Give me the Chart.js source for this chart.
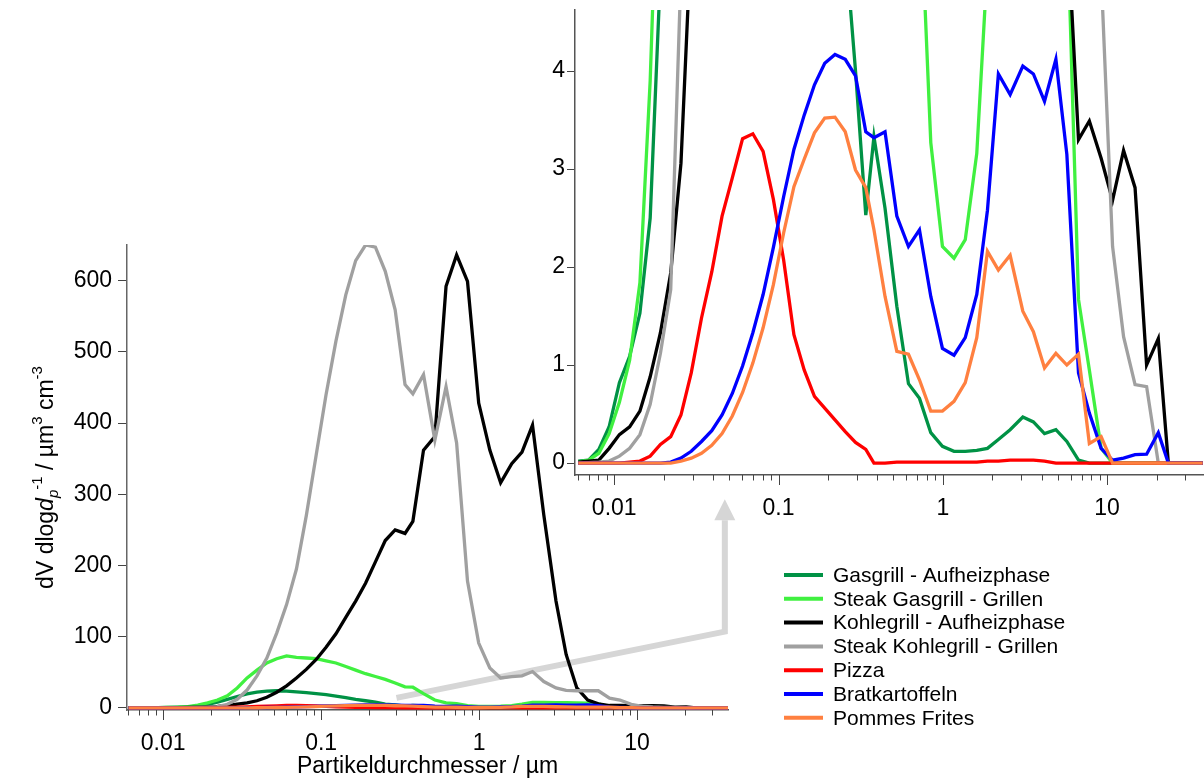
<!DOCTYPE html>
<html>
<head>
<meta charset="utf-8">
<script src="https://cdn.jsdelivr.net/npm/chart.js@4.4.1/dist/chart.umd.min.js"></script>
<style>
  html, body { margin: 0; padding: 0; background: #fff; }
  #wrap { position: relative; width: 1204px; height: 780px; }
  #wrap canvas { position: absolute; left: 0; top: 0; }
</style>
</head>
<body>
<div id="wrap">
  <canvas id="mainChart" width="1204" height="780"></canvas>
  <canvas id="insetChart" width="1204" height="780"></canvas>
</div>
<script>
// particle diameter in µm (SMPS part, then OPS part)
const sizes = [0.00604, 0.00698, 0.00806, 0.00931, 0.01075, 0.01241, 0.01433, 0.01655, 0.01911, 0.02207,
  0.02548, 0.02943, 0.03398, 0.03924, 0.04532, 0.05233, 0.06043, 0.06978, 0.08058, 0.09306,
  0.1075, 0.1241, 0.1433, 0.1655, 0.1911, 0.2207, 0.2548, 0.2943, 0.3398,
  0.381, 0.445, 0.525, 0.618, 0.721, 0.845, 0.995, 1.17, 1.37, 1.61,
  1.87, 2.18, 2.57, 3.07, 3.56, 4.16, 4.88, 5.69, 6.70, 7.80,
  9.20, 10.8, 12.6, 14.8, 17.4, 20.5, 23.6, 27.7, 32.5, 38.2];

const gasgrillHeat = [0.02, 0.03, 0.14, 0.37, 0.82, 1.09, 1.53, 2.5, 5, 8,
  12, 16, 19.5, 22, 23.5, 24, 23.5, 22.5, 21.5, 20,
  18.5, 16.5, 14.5, 12, 10, 8, 5.3, 4.0, 2.53,
  3.33, 2.6, 1.6, 0.81, 0.66, 0.31, 0.17, 0.12, 0.12, 0.13,
  0.15, 0.24, 0.34, 0.47, 0.42, 0.30, 0.34, 0.22, 0.03, 0,
  0, 0, 0, 0, 0, 0, 0, 0, 0, 0];

const steakGasgrill = [0.01, 0.03, 0.10, 0.30, 0.62, 1.05, 1.84, 3.9, 7, 11,
  17, 28, 42, 53, 63, 69, 73, 71, 70, 69,
  66, 63, 58, 53, 48, 44, 40, 35, 29.5,
  29, 20, 11, 7, 6, 3.27, 2.21, 2.09, 2.28, 3.16,
  5.1, 7.5, 7.5, 7.3, 7.2, 7.0, 6.7, 5.7, 1.67, 0.95,
  0.15, 0, 0, 0, 0, 0, 0, 0, 0, 0];

const kohlegrillHeat = [0.01, 0.02, 0.03, 0.15, 0.29, 0.37, 0.53, 0.88, 1.33, 1.94,
  3.06, 5.4, 7, 10, 15, 22, 31, 42, 54, 68,
  85, 104, 127, 150, 175, 205, 235, 250, 245,
  262, 362, 381, 592, 636, 599, 428, 362, 316, 343,
  359, 397, 271, 150, 75, 28, 11, 5.6, 3.30, 3.49,
  3.11, 2.68, 3.19, 2.81, 1.0, 1.27, 0, 0, 0, 0];

const steakKohlegrill = [0, 0.005, 0.01, 0.02, 0.07, 0.15, 0.29, 0.6, 1.12, 1.77,
  5.0, 12, 25, 45, 70, 105, 145, 195, 270, 355,
  440, 515, 580, 628, 650, 647, 613, 559, 454,
  441, 468, 376, 451, 372, 178, 91, 56, 42, 44,
  45, 51, 37, 28, 24.5, 24, 24, 24, 13.6, 11,
  5.0, 2.21, 1.29, 0.80, 0.78, 0, 0, 0, 0, 0];

const pizza = [0, 0, 0, 0, 0, 0.01, 0.02, 0.07, 0.19, 0.27,
  0.49, 0.92, 1.48, 1.95, 2.52, 2.91, 3.31, 3.36, 3.18, 2.69,
  2.07, 1.31, 0.95, 0.68, 0.56, 0.44, 0.32, 0.21, 0.14,
  0, 0, 0.01, 0.01, 0.01, 0.01, 0.01, 0.01, 0.01, 0.01,
  0.02, 0.02, 0.03, 0.03, 0.03, 0.02, 0, 0, 0, 0,
  0, 0, 0, 0, 0, 0, 0, 0, 0, 0];

const bratkartoffeln = [0, 0, 0, 0, 0, 0, 0, 0, 0, 0.01,
  0.05, 0.12, 0.22, 0.33, 0.49, 0.71, 0.99, 1.33, 1.72, 2.2,
  2.72, 3.2, 3.55, 3.86, 4.08, 4.17, 4.12, 3.95, 3.38,
  3.32, 3.38, 2.52, 2.21, 2.38, 1.70, 1.17, 1.10, 1.28, 1.72,
  2.58, 3.97, 3.76, 4.05, 3.97, 3.69, 4.12, 3.15, 0.92, 0.51,
  0.15, 0.03, 0.05, 0.085, 0.09, 0.31, 0, 0, 0, 0];

const pommesFrites = [0, 0, 0, 0, 0, 0, 0, 0, 0, 0,
  0.02, 0.05, 0.10, 0.18, 0.30, 0.48, 0.72, 1.02, 1.38, 1.82,
  2.35, 2.82, 3.10, 3.37, 3.52, 3.53, 3.38, 2.99, 2.81,
  2.38, 1.7, 1.14, 1.11, 0.85, 0.53, 0.53, 0.63, 0.82, 1.28,
  2.16, 1.97, 2.12, 1.55, 1.34, 0.97, 1.12, 1.0, 1.11, 0.2,
  0.27, 0, 0, 0, 0, 0, 0, 0, 0, 0];

const seriesNames = ['Gasgrill - Aufheizphase', 'Steak Gasgrill - Grillen', 'Kohlegrill - Aufheizphase',
  'Steak Kohlegrill - Grillen', 'Pizza', 'Bratkartoffeln', 'Pommes Frites'];
const seriesValues = [gasgrillHeat, steakGasgrill, kohlegrillHeat, steakKohlegrill, pizza, bratkartoffeln, pommesFrites];
const seriesColors = ['#009245', '#40f040', '#000000', '#a0a0a0', '#ff0000', '#0000ff', '#ff8040'];

const xTickValues = [0.01, 0.1, 1, 10];
const xDecades = [0.001, 0.01, 0.1, 1, 10];
const mainYTicks = [0, 100, 200, 300, 400, 500, 600];
const insetYTicks = [0, 1, 2, 3, 4];

// grey arrow from main plot to inset, in data coordinates of the main plot
const arrowPath = [[0.30, 14], [36, 107], [36, 293]];

Chart.defaults.font.family = '"Liberation Sans", Arial, Helvetica, sans-serif';
Chart.defaults.color = '#000';

function makeDatasets() {
  return seriesValues.map((vals, i) => ({
    label: seriesNames[i],
    data: vals.map((v, j) => ({ x: sizes[j], y: v })),
    borderColor: seriesColors[i],
    backgroundColor: seriesColors[i],
    borderWidth: 3.3,
    pointRadius: 0,
    showLine: true,
    tension: 0,
    order: seriesValues.length - 1 - i
  }));
}

const minorTicks = {
  id: 'minorTicks',
  afterDraw(chart) {
    const s = chart.scales.x;
    const ctx = chart.ctx;
    ctx.save();
    ctx.strokeStyle = '#444';
    ctx.lineWidth = 1;
    xDecades.forEach(d => {
      for (let m = 1; m <= 9; m++) {
        const v = m * d;
        if (v < s.min || v > s.max) continue;
        const px = Math.round(s.getPixelForValue(v)) + 0.5;
        const len = m === 1 ? 10 : 5.5;
        ctx.beginPath();
        ctx.moveTo(px, s.top);
        ctx.lineTo(px, s.top + len);
        ctx.stroke();
      }
    });
    ctx.restore();
  }
};

const arrow = {
  id: 'arrow',
  beforeDatasetsDraw(chart) {
    const xs = chart.scales.x, ys = chart.scales.y, ctx = chart.ctx;
    const pts = arrowPath.map(p => [xs.getPixelForValue(p[0]), ys.getPixelForValue(p[1])]);
    const tip = pts[pts.length - 1];
    const headLen = 21, headHalf = 10.5;
    ctx.save();
    ctx.strokeStyle = '#d6d6d6';
    ctx.fillStyle = '#d6d6d6';
    ctx.lineWidth = 6;
    ctx.lineJoin = 'miter';
    ctx.beginPath();
    ctx.moveTo(pts[0][0], pts[0][1]);
    for (let i = 1; i < pts.length - 1; i++) ctx.lineTo(pts[i][0], pts[i][1]);
    ctx.lineTo(tip[0], tip[1] + headLen);
    ctx.stroke();
    ctx.beginPath();
    ctx.moveTo(tip[0], tip[1]);
    ctx.lineTo(tip[0] - headHalf, tip[1] + headLen);
    ctx.lineTo(tip[0] + headHalf, tip[1] + headLen);
    ctx.closePath();
    ctx.fill();
    ctx.restore();
  }
};

const yTitle = {
  id: 'yTitle',
  afterDraw(chart) {
    const ctx = chart.ctx;
    const fam = '"Liberation Sans", Arial, sans-serif';
    const parts = [
      { t: 'dV dlog', f: '23px ' + fam, dy: 0 },
      { t: 'd', f: 'italic 23px ' + fam, dy: 0 },
      { t: 'p', f: 'italic 15px ' + fam, dy: 5 },
      { t: '-1', f: '15px ' + fam, dy: -11 },
      { t: ' / µm', f: '23px ' + fam, dy: 0 },
      { t: '3', f: '15px ' + fam, dy: -11 },
      { t: ' cm', f: '23px ' + fam, dy: 0 },
      { t: '-3', f: '15px ' + fam, dy: -11 }
    ];
    let total = 0;
    parts.forEach(p => { ctx.font = p.f; p.w = ctx.measureText(p.t).width; total += p.w; });
    const cy = (chart.chartArea.top + chart.chartArea.bottom) / 2;
    ctx.save();
    ctx.translate(53, cy);
    ctx.rotate(-Math.PI / 2);
    ctx.fillStyle = '#000';
    ctx.textBaseline = 'alphabetic';
    let x = -total / 2;
    parts.forEach(p => { ctx.font = p.f; ctx.fillText(p.t, x, p.dy); x += p.w; });
    ctx.restore();
  }
};

const legendBox = {
  id: 'legendBox',
  afterDraw(chart) {
    const ctx = chart.ctx;
    ctx.save();
    ctx.font = '21px "Liberation Sans", Arial, sans-serif';
    ctx.textBaseline = 'middle';
    chart.data.datasets.forEach((ds, i) => {
      const y = 575 + i * 23.8;
      ctx.strokeStyle = ds.borderColor;
      ctx.lineWidth = 4;
      ctx.beginPath();
      ctx.moveTo(784, y);
      ctx.lineTo(823, y);
      ctx.stroke();
      ctx.fillStyle = '#000';
      ctx.fillText(ds.label, 833, y + 1);
    });
    ctx.restore();
  }
};

new Chart(document.getElementById('mainChart'), {
  type: 'scatter',
  data: { datasets: makeDatasets() },
  options: {
    responsive: false,
    animation: false,
    layout: { padding: { left: 0, top: 245, right: 476, bottom: 0 } },
    plugins: { legend: { display: false }, tooltip: { enabled: false } },
    scales: {
      x: {
        type: 'logarithmic', min: 0.0059, max: 37.7,
        afterBuildTicks: s => { s.ticks = xTickValues.map(v => ({ value: v })); },
        afterFit: s => { s.height = 70; },
        grid: { display: false, drawTicks: false },
        border: { display: true, color: '#555', width: 1.5 },
        ticks: { autoSkip: false, maxRotation: 0, padding: 20, color: '#000', font: { size: 23 }, callback: v => String(v) },
        title: { display: true, text: 'Partikeldurchmesser / µm', color: '#000', font: { size: 23 }, padding: 0 }
      },
      y: {
        type: 'linear', min: -3, max: 650,
        afterBuildTicks: s => { s.ticks = mainYTicks.map(v => ({ value: v })); },
        afterFit: s => { s.width = 127; },
        grid: { drawOnChartArea: false, drawTicks: true, tickLength: 9, tickColor: '#444', tickWidth: 1 },
        border: { display: true, color: '#666', width: 1.5 },
        ticks: { padding: 6, color: '#000', font: { size: 23 } }
      }
    }
  },
  plugins: [arrow, minorTicks, yTitle, legendBox]
});

new Chart(document.getElementById('insetChart'), {
  type: 'scatter',
  data: { datasets: makeDatasets() },
  options: {
    responsive: false,
    animation: false,
    layout: { padding: { left: 0, top: 10, right: 0, bottom: 245 } },
    plugins: { legend: { display: false }, tooltip: { enabled: false } },
    scales: {
      x: {
        type: 'logarithmic', min: 0.00577, max: 38.9,
        afterBuildTicks: s => { s.ticks = xTickValues.map(v => ({ value: v })); },
        afterFit: s => { s.height = 60; },
        grid: { display: false, drawTicks: false },
        border: { display: true, color: '#555', width: 1.5 },
        ticks: { autoSkip: false, maxRotation: 0, padding: 20, color: '#000', font: { size: 23 }, callback: v => String(v) }
      },
      y: {
        type: 'linear', min: -0.122, max: 4.623,
        afterBuildTicks: s => { s.ticks = insetYTicks.map(v => ({ value: v })); },
        afterFit: s => { s.width = 575; },
        grid: { drawOnChartArea: false, drawTicks: true, tickLength: 8, tickColor: '#444', tickWidth: 1 },
        border: { display: true, color: '#555', width: 1.5 },
        ticks: { padding: 2, color: '#000', font: { size: 23, lineHeight: 0.6 } }
      }
    }
  },
  plugins: [minorTicks]
});
</script>
</body>
</html>
